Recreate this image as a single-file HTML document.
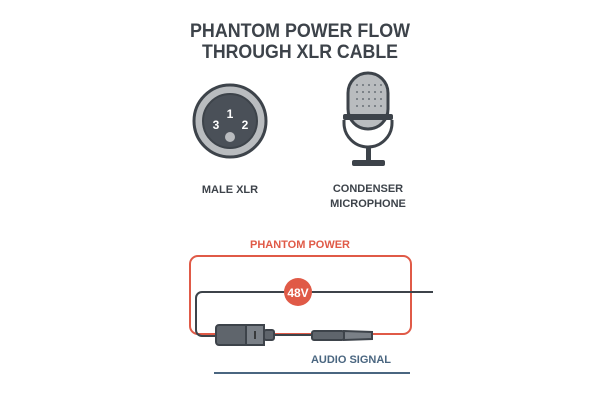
<!DOCTYPE html>
<html><head><style>body{margin:0;background:#fff}svg{display:block}</style></head><body>
<svg width="600" height="400" viewBox="0 0 600 400" font-family="Liberation Sans, sans-serif" font-weight="bold">
<text x="300" y="37" text-anchor="middle" font-size="19" fill="#3d434a" textLength="220" lengthAdjust="spacingAndGlyphs">PHANTOM POWER FLOW</text>
<text x="300" y="58" text-anchor="middle" font-size="19" fill="#3d434a" textLength="196" lengthAdjust="spacingAndGlyphs">THROUGH XLR CABLE</text>
<!-- XLR -->
<circle cx="230" cy="121" r="36" fill="#b9bcbf" stroke="#3d434a" stroke-width="3"/>
<circle cx="230" cy="121" r="27" fill="#4a5058" stroke="#3d434a" stroke-width="2"/>
<text x="230" y="118" text-anchor="middle" font-size="12" fill="#fff">1</text>
<text x="216" y="129" text-anchor="middle" font-size="12" fill="#fff">3</text>
<text x="245" y="129" text-anchor="middle" font-size="12" fill="#fff">2</text>
<circle cx="230" cy="137" r="5" fill="#b9bcbf"/>
<text x="230" y="193" text-anchor="middle" font-size="11" fill="#3d434a">MALE XLR</text>
<!-- Mic -->
<rect x="348" y="73" width="40" height="56" rx="20" fill="#b9bcbf" stroke="#3d434a" stroke-width="3"/>
<g fill="#6a7077">
<circle cx="357" cy="85" r="1"/><circle cx="363" cy="85" r="1"/><circle cx="369" cy="85" r="1"/><circle cx="375" cy="85" r="1"/><circle cx="381" cy="85" r="1"/>
<circle cx="357" cy="92" r="1"/><circle cx="363" cy="92" r="1"/><circle cx="369" cy="92" r="1"/><circle cx="375" cy="92" r="1"/><circle cx="381" cy="92" r="1"/>
<circle cx="357" cy="99" r="1"/><circle cx="363" cy="99" r="1"/><circle cx="369" cy="99" r="1"/><circle cx="375" cy="99" r="1"/><circle cx="381" cy="99" r="1"/>
<circle cx="357" cy="106" r="1"/><circle cx="363" cy="106" r="1"/><circle cx="369" cy="106" r="1"/><circle cx="375" cy="106" r="1"/><circle cx="381" cy="106" r="1"/>
</g>
<rect x="343" y="114" width="50" height="6" rx="2" fill="#3d434a"/>
<path d="M344 120 v3 a24 24 0 0 0 48 0 v-3" fill="none" stroke="#3d434a" stroke-width="3"/>
<rect x="366" y="147" width="5" height="14" fill="#3d434a"/>
<rect x="352" y="160" width="33" height="6" rx="2" fill="#3d434a"/>
<text x="368" y="192" text-anchor="middle" font-size="11" fill="#3d434a">CONDENSER</text>
<text x="368" y="207" text-anchor="middle" font-size="11" fill="#3d434a">MICROPHONE</text>
<!-- diagram -->
<text x="300" y="248" text-anchor="middle" font-size="11" fill="#e05a47">PHANTOM POWER</text>
<rect x="190" y="256" width="221" height="78" rx="8" fill="none" stroke="#e05a47" stroke-width="2"/>
<path d="M433 292 H202 a6 6 0 0 0 -6 6 V330 a6 6 0 0 0 6 6 H216" fill="none" stroke="#3d434a" stroke-width="2"/>
<rect x="216" y="325" width="38" height="20" rx="3" fill="#5f656c" stroke="#3d434a" stroke-width="2"/>
<rect x="246" y="325" width="18" height="20" fill="#7a8087" stroke="#3d434a" stroke-width="2"/>
<line x1="255" y1="331" x2="255" y2="339" stroke="#222" stroke-width="1.5"/>
<rect x="264" y="330" width="10" height="10" rx="2" fill="#5f656c" stroke="#3d434a" stroke-width="2"/>
<line x1="274" y1="335" x2="312" y2="335" stroke="#3d434a" stroke-width="2"/>
<rect x="312" y="331" width="32" height="9" rx="2" fill="#5f656c" stroke="#3d434a" stroke-width="2"/>
<path d="M344 331 L372 332 V339 L344 340 Z" fill="#7a8087" stroke="#3d434a" stroke-width="2"/>
<circle cx="298" cy="292" r="14" fill="#e05a47"/>
<text x="298" y="297" text-anchor="middle" font-size="12" fill="#fff">48V</text>
<text x="351" y="363" text-anchor="middle" font-size="11" fill="#4a6680">AUDIO SIGNAL</text>
<line x1="214" y1="373" x2="410" y2="373" stroke="#4a6680" stroke-width="2"/>
</svg>
</body></html>
